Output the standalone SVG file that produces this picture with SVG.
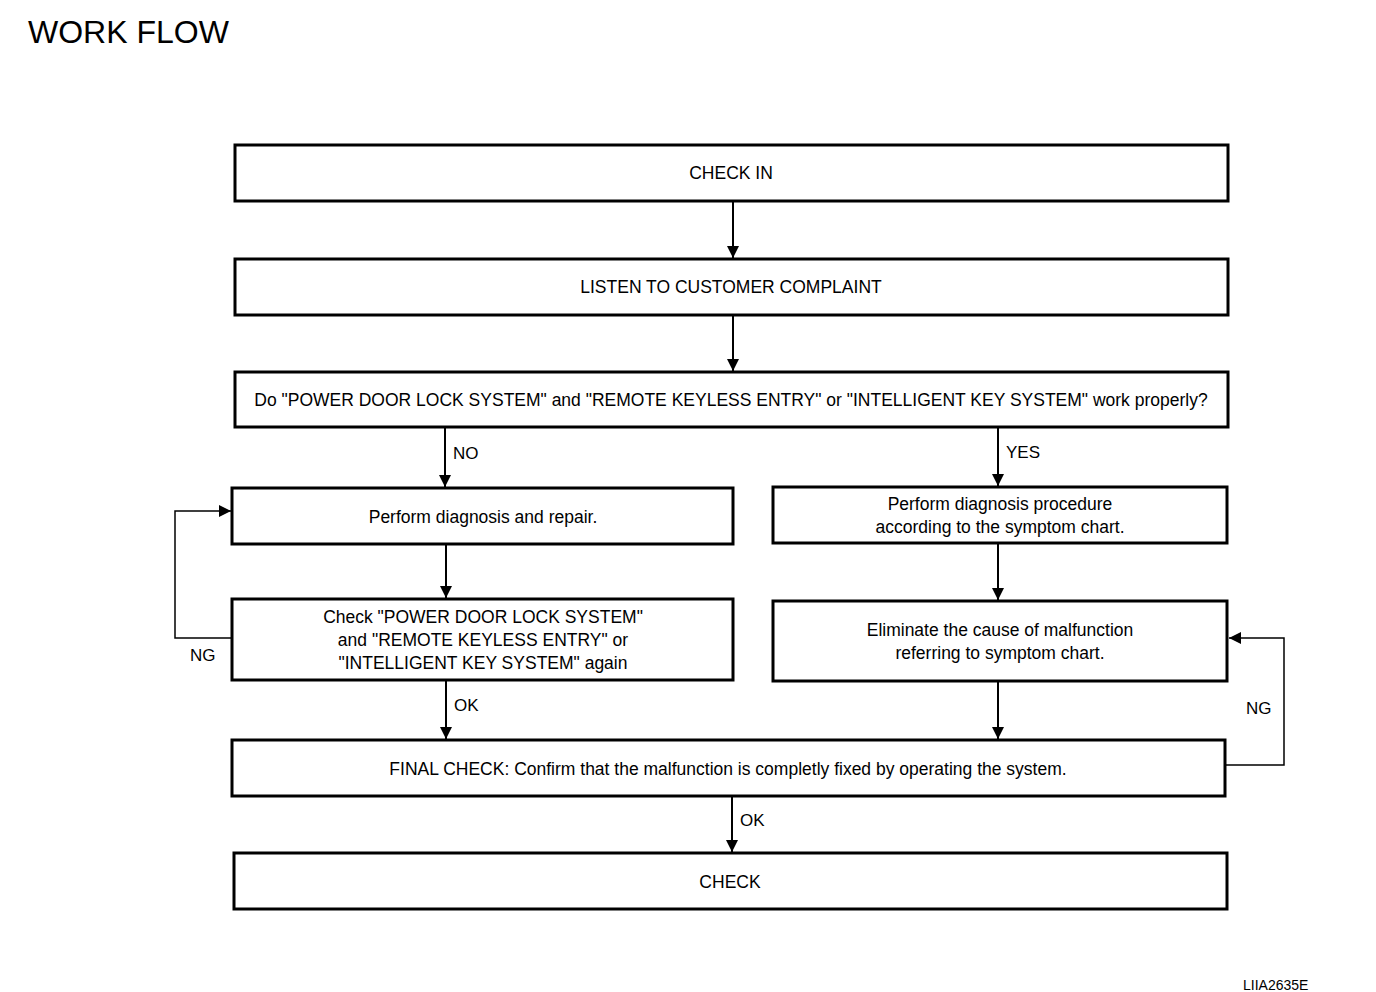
<svg xmlns="http://www.w3.org/2000/svg" width="1376" height="992" viewBox="0 0 1376 992">
<style>
.box{fill:#fff;stroke:#000;stroke-width:3}
.t{font-family:"Liberation Sans",Arial,sans-serif;font-size:17.5px;fill:#000;text-anchor:middle}
.l{font-family:"Liberation Sans",Arial,sans-serif;font-size:17px;fill:#000}
.c{fill:none;stroke:#000;stroke-width:2}
.c1{fill:none;stroke:#000;stroke-width:1.5}
</style>
<defs>
<marker id="ah2" viewBox="0 0 10 10" refX="10" refY="5" markerWidth="14" markerHeight="12" markerUnits="userSpaceOnUse" orient="auto"><path d="M0,0 L10,5 L0,10 z" fill="#000"/></marker>
</defs>
<rect width="1376" height="992" fill="#fff"/>
<text x="28" y="43" style="font-family:'Liberation Sans',Arial,sans-serif;font-size:32px">WORK FLOW</text>
<g id="n1"><rect class="box" x="235" y="145" width="993" height="56"/><text class="t" x="731" y="179">CHECK IN</text></g>
<g id="n2"><rect class="box" x="235" y="259" width="993" height="56"/><text class="t" x="731" y="293">LISTEN TO CUSTOMER COMPLAINT</text></g>
<g id="n3"><rect class="box" x="235" y="372" width="993" height="55"/><text class="t" x="731" y="406">Do "POWER DOOR LOCK SYSTEM" and "REMOTE KEYLESS ENTRY" or "INTELLIGENT KEY SYSTEM" work properly?</text></g>
<g id="n4"><rect class="box" x="232" y="488" width="501" height="56"/><text class="t" x="483" y="523">Perform diagnosis and repair.</text></g>
<g id="n5"><rect class="box" x="773" y="487" width="454" height="56"/><text class="t" x="1000" y="510">Perform diagnosis procedure</text><text class="t" x="1000" y="533">according to the symptom chart.</text></g>
<g id="n6"><rect class="box" x="232" y="599" width="501" height="81"/><text class="t" x="483" y="623">Check "POWER DOOR LOCK SYSTEM"</text><text class="t" x="483" y="646">and "REMOTE KEYLESS ENTRY" or</text><text class="t" x="483" y="669">"INTELLIGENT KEY SYSTEM" again</text></g>
<g id="n7"><rect class="box" x="773" y="601" width="454" height="80"/><text class="t" x="1000" y="636">Eliminate the cause of malfunction</text><text class="t" x="1000" y="659">referring to symptom chart.</text></g>
<g id="n8"><rect class="box" x="232" y="740" width="993" height="56"/><text class="t" x="728" y="775">FINAL CHECK: Confirm that the malfunction is completly fixed by operating the system.</text></g>
<g id="n9"><rect class="box" x="234" y="853" width="993" height="56"/><text class="t" x="730" y="888">CHECK</text></g>
<g id="connectors">
<line class="c" x1="733" y1="202" x2="733" y2="258" marker-end="url(#ah2)"/>
<line class="c" x1="733" y1="316" x2="733" y2="371" marker-end="url(#ah2)"/>
<line class="c" x1="445" y1="428" x2="445" y2="487" marker-end="url(#ah2)"/>
<line class="c" x1="998" y1="428" x2="998" y2="486" marker-end="url(#ah2)"/>
<line class="c" x1="446" y1="545" x2="446" y2="598" marker-end="url(#ah2)"/>
<line class="c" x1="998" y1="544" x2="998" y2="600" marker-end="url(#ah2)"/>
<line class="c" x1="446" y1="681" x2="446" y2="739" marker-end="url(#ah2)"/>
<line class="c" x1="998" y1="682" x2="998" y2="739" marker-end="url(#ah2)"/>
<line class="c" x1="732" y1="797" x2="732" y2="852" marker-end="url(#ah2)"/>
<polyline class="c1" points="231,638 175,638 175,511 231,511" marker-end="url(#ah2)"/>
<polyline class="c1" points="1226,765 1284,765 1284,638 1229,638" marker-end="url(#ah2)"/>
</g>
<text class="l" x="453" y="459">NO</text>
<text class="l" x="1006" y="458">YES</text>
<text class="l" x="454" y="711">OK</text>
<text class="l" x="740" y="826">OK</text>
<text class="l" x="190" y="661">NG</text>
<text class="l" x="1246" y="714">NG</text>
<text x="1243" y="990" style="font-family:'Liberation Sans',Arial,sans-serif;font-size:14px">LIIA2635E</text>
</svg>
